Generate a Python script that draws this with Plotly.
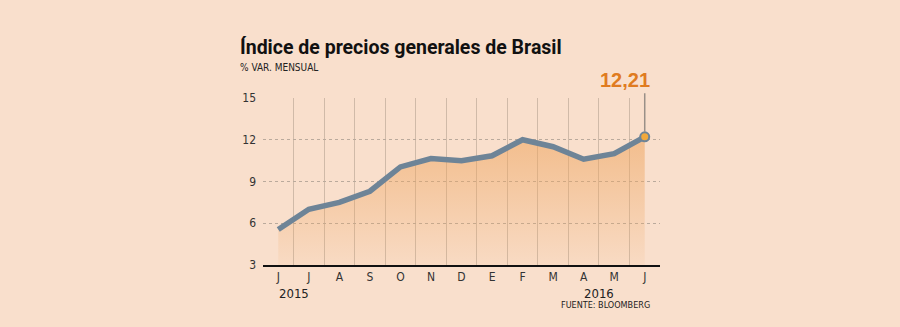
import plotly.graph_objects as go

months = ["J", "J", "A", "S", "O", "N", "D", "E", "F", "M", "A", "M", "J"]
values = [5.55, 7.0, 7.5, 8.3, 10.05, 10.65, 10.5, 10.85, 12.0, 11.5, 10.6, 11.0, 12.21]
year_labels = ["2015", "2016"]
year_pos = [0.5, 10.5]
last_label = "12,21"

BG = "#F9DFCC"
LINE = "#6E8497"
FONT = "DejaVu Sans Condensed"

x = list(range(len(values)))

fig = go.Figure()
fig.add_trace(go.Scatter(
    x=x, y=values, mode="lines", fill="tozeroy",
    line=dict(color=LINE, width=5.5),
    fillgradient=dict(type="vertical", start=3, stop=12.2,
                      colorscale=[[0, "rgba(238,165,95,0.08)"], [1, "rgba(238,165,95,0.58)"]]),
    hoverinfo="skip",
))
fig.add_trace(go.Scatter(
    x=[x[-1]], y=[values[-1]], mode="markers",
    marker=dict(size=9, color="#F2A93B", line=dict(color=LINE, width=2)),
    hoverinfo="skip",
))

fig.update_layout(
    width=900, height=327,
    margin=dict(l=263, r=240, t=98, b=62),
    paper_bgcolor=BG, plot_bgcolor=BG,
    showlegend=False,
    font=dict(family=FONT, color="#222222"),
    xaxis=dict(
        range=[-0.5, 12.5], tickmode="array", tickvals=x, ticktext=months,
        showgrid=False, zeroline=False, showline=True, linecolor="#111111", linewidth=1.5,
        ticks="", tickfont=dict(size=12, color="#333333", family=FONT),
        minor=dict(tickmode="linear", tick0=-0.5, dtick=1, showgrid=True,
                   gridcolor="#D0BAA8", gridwidth=1.3, ticks=""),
    ),
    yaxis=dict(
        range=[3, 15], tickmode="array", tickvals=[3, 6, 9, 12, 15],
        showgrid=True, gridcolor="#BAAA9C", griddash="dot", gridwidth=1,
        zeroline=False, showline=False, ticks="",
        tickfont=dict(size=12, color="#333333", family=FONT),
        ticklabelstandoff=6,
    ),
    annotations=[
        dict(text="<b>Índice de precios generales de Brasil</b>", xref="paper", yref="paper",
             x=0, y=1.0, xanchor="left", yanchor="bottom", yshift=37, xshift=-25,
             showarrow=False, font=dict(size=19.5, color="#111111", family="Roboto")),
        dict(text="% VAR. MENSUAL", xref="paper", yref="paper",
             x=0, y=1.0, xanchor="left", yanchor="bottom", yshift=23, xshift=-25,
             showarrow=False, font=dict(size=10, color="#222222", family=FONT)),
        dict(text="", x=x[-1], y=values[-1], xref="x", yref="y",
             showarrow=True, ax=0, ay=-45, arrowhead=0, arrowwidth=1.5,
             arrowcolor="#999088", standoff=5),
        dict(text="<b>" + last_label + "</b>", x=x[-1], y=values[-1], xref="x", yref="y",
             xanchor="right", yanchor="bottom", xshift=7, yshift=44, showarrow=False,
             font=dict(size=20, color="#E07B20", family="Liberation Sans")),
        dict(text=year_labels[0], x=year_pos[0], xref="x", y=0, yref="paper",
             yanchor="top", yshift=-19, showarrow=False, font=dict(size=13, color="#222222")),
        dict(text=year_labels[1], x=year_pos[1], xref="x", y=0, yref="paper",
             yanchor="top", yshift=-19, showarrow=False, font=dict(size=13, color="#222222")),
        dict(text="FUENTE: BLOOMBERG", xref="paper", yref="paper", x=0.98, y=0,
             xanchor="right", yanchor="top", yshift=-33, showarrow=False,
             font=dict(size=9, color="#222222", family=FONT)),
    ],
)

fig.write_html("out.html")
